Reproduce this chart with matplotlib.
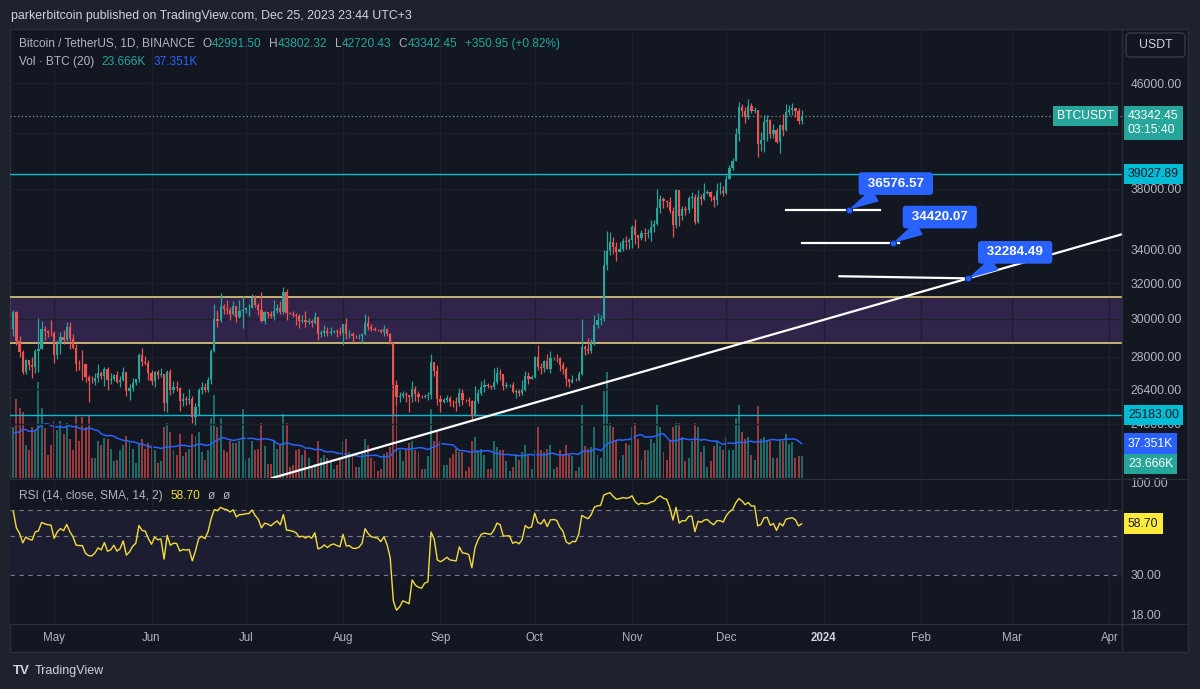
# BTCUSDT 1D chart, TradingView dark style
import numpy as np
import pandas as pd
import matplotlib
matplotlib.use("Agg")
import matplotlib.pyplot as plt
import matplotlib.dates as mdates
import matplotlib.transforms as mtransforms
from matplotlib.patches import Rectangle, FancyBboxPatch
from matplotlib.lines import Line2D
from matplotlib.offsetbox import TextArea, HPacker, AnnotationBbox
from matplotlib.ticker import NullLocator, NullFormatter

plt.rcParams['font.family'] = ['Liberation Sans', 'DejaVu Sans']

# ---------------- data: daily candles 2023-04-18 .. 2023-12-25 ----------------
close_apr = [30390, 28800, 28240, 27260, 27820, 27590, 27510, 28300, 28420, 29470, 29340, 29250, 29230]
high_apr = [30480, 30410, 29080, 28370, 27880, 27820, 28000, 28390, 30020, 29880, 29600, 29420, 29950]
low_apr = [29100, 28600, 28010, 27140, 27130, 27350, 26940, 27200, 27230, 28380, 28880, 29050, 29100]
vol_apr = [56, 86, 76, 72, 36, 30, 55, 52, 105, 76, 54, 25, 36]

close_may = [28070, 28680, 29030, 28850, 29530, 28900, 28430, 27660, 27630, 27620,
             26990, 26800, 26780, 26920, 27170, 27030, 27400, 26830, 26890, 27110,
             26750, 26850, 27220, 26330, 26470, 26720, 26870, 28080, 27740, 27700, 27210]
high_may = [29330, 28880, 29270, 29380, 29850, 29840, 29180, 28660, 27840, 28330,
            27640, 27070, 27030, 27200, 27660, 27280, 27500, 27490, 27190, 27160,
            27270, 27060, 27500, 27210, 26650, 26930, 26890, 28190, 28450, 28050, 27830]
low_may = [27680, 27870, 28120, 28680, 28820, 28380, 28390, 27280, 27360, 26850,
           26750, 25810, 26690, 26600, 26730, 26870, 26560, 26360, 26630, 26800,
           26680, 26500, 26800, 26080, 25870, 26330, 26610, 26770, 27550, 27580, 26840]
vol_may = [62, 52, 62, 48, 60, 42, 30, 68, 40, 66, 55, 68, 22, 22, 40, 36, 44, 42, 32, 18,
           20, 30, 36, 46, 40, 32, 16, 38, 42, 32, 38]

close_jun = [26820, 27250, 27070, 27120, 25760, 27240, 26350, 26500, 26480, 25850,
             25940, 25900, 25920, 25120, 25580, 26340, 26520, 26340, 26850, 28310,
             30000, 29890, 30690, 30530, 30470, 30270, 30690, 30080, 30450, 30470]
high_jun = [27350, 27300, 27320, 27460, 27130, 27350, 27400, 26810, 26780, 26530,
            26200, 26080, 26420, 26070, 25750, 26480, 26770, 26680, 27000, 28400,
            30800, 30500, 31430, 30800, 31050, 30650, 31000, 30720, 31050, 31280]
low_jun = [26600, 26500, 26900, 26970, 25390, 25350, 26120, 26230, 26320, 25380,
           25600, 25650, 25720, 24820, 24750, 25180, 26180, 26290, 26260, 26650,
           28270, 29530, 29810, 30250, 30270, 29930, 30230, 29850, 30050, 29500]
vol_jun = [36, 30, 16, 18, 55, 60, 50, 30, 25, 48, 24, 28, 32, 48, 46, 50, 28, 20, 30, 65,
           90, 55, 65, 30, 28, 40, 38, 38, 40, 75]

close_jul = [30590, 30620, 31160, 30770, 30510, 29900, 30350, 30290, 30170, 30410,
             30620, 30380, 31470, 30320, 30290, 30230, 30140, 29860, 29910, 29800,
             29900, 29790, 30080, 29180, 29230, 29350, 29210, 29310, 29350, 29280, 29230]
high_jul = [30660, 30800, 31380, 31330, 30880, 31500, 30450, 30380, 30440, 31030,
            30800, 30990, 31810, 31640, 30390, 30440, 30340, 30240, 30190, 30420,
            30050, 29990, 30350, 30100, 29380, 29680, 29580, 29530, 29410, 29450, 29530]
low_jul = [30320, 30160, 30580, 30640, 30200, 29850, 29700, 30040, 30060, 29950,
           30300, 30250, 30250, 29950, 30250, 30080, 29660, 29500, 29760, 29570,
           29720, 29530, 29740, 28860, 29050, 29100, 29090, 29130, 29260, 29030, 29110]
vol_jul = [20, 22, 40, 30, 32, 60, 35, 15, 15, 40, 32, 36, 70, 60, 12, 14, 30, 32, 25, 30,
           22, 12, 15, 40, 22, 25, 22, 20, 10, 14, 22]

close_aug = [29700, 29170, 29180, 29070, 29060, 29090, 29200, 29770, 29570, 29450,
             29420, 29400, 29280, 29430, 29170, 28700, 26620, 26050, 26100, 26190,
             26120, 26040, 26430, 26160, 26050, 26010, 26090, 26110, 27720, 27300, 25930]
high_aug = [29740, 30050, 29410, 29310, 29110, 29170, 29250, 30250, 30130, 29700,
            29540, 29470, 29450, 29670, 29480, 29250, 28780, 26830, 26280, 26300,
            26260, 26140, 26810, 26550, 26300, 26120, 26170, 26250, 28140, 27760, 27580]
low_aug = [28590, 28940, 28960, 28750, 28950, 28930, 28700, 29110, 29380, 29330,
           29350, 29360, 29250, 29080, 29060, 28680, 25170, 25620, 25800, 25970,
           25800, 25350, 25800, 25860, 25780, 25960, 25980, 25880, 25920, 27030, 25660]
vol_aug = [40, 42, 28, 26, 12, 12, 28, 42, 36, 22, 18, 8, 10, 26, 28, 34, 100, 80, 30, 18,
           32, 38, 40, 30, 28, 10, 10, 24, 75, 40, 50]

close_sep = [25800, 25870, 25970, 25810, 25780, 25750, 26240, 25910, 25890, 25830,
             25160, 25840, 26230, 26530, 26600, 26570, 26530, 26760, 27210, 27130,
             26570, 26580, 26580, 26250, 26300, 26220, 26370, 27020, 26910, 26970]
high_sep = [26130, 25980, 26120, 26100, 25890, 26040, 26450, 26420, 25950, 26030,
            25880, 26540, 26400, 26810, 26880, 26680, 26620, 27420, 27490, 27380,
            27160, 26740, 26630, 26730, 26430, 26390, 26840, 27310, 27230, 27080]
low_sep = [25330, 25730, 25790, 25600, 25560, 25360, 25610, 25650, 25800, 25600,
           24900, 25130, 25760, 26130, 26250, 26480, 26420, 26390, 26670, 26850,
           26360, 26470, 26500, 26220, 25990, 26090, 26120, 26330, 26670, 26900]
vol_sep = [40, 14, 14, 22, 26, 32, 28, 28, 8, 12, 40, 45, 30, 32, 25, 10, 10, 40, 34, 30,
           30, 18, 8, 12, 26, 20, 28, 36, 25, 10]

close_oct = [27990, 27500, 27430, 27780, 27410, 27930, 27960, 27920, 27590, 27390,
             26870, 26760, 26860, 26850, 27150, 28500, 28400, 28320, 28710, 29680,
             29920, 29990, 33070, 33900, 34500, 34150, 33890, 34080, 34530, 34480, 34640]
high_oct = [28060, 28590, 27670, 27830, 28130, 28290, 28000, 28120, 27990, 27740,
            27480, 26840, 27100, 26960, 27290, 30000, 28600, 28980, 28930, 30200,
            30340, 30220, 34000, 35200, 35130, 34830, 34500, 34480, 34770, 34850, 34720]
low_oct = [26950, 27330, 27160, 27220, 27370, 27180, 27850, 27730, 27270, 27160,
           26560, 26530, 26700, 26810, 26810, 27110, 28100, 28150, 28180, 28600,
           29480, 29680, 29880, 32800, 33690, 33760, 33330, 33870, 33920, 34080, 34080]
vol_oct = [30, 55, 30, 28, 32, 36, 10, 12, 30, 26, 36, 26, 24, 8, 12, 80, 35, 32, 34, 55,
           25, 22, 95, 115, 60, 55, 40, 20, 25, 38, 36]

close_nov = [35420, 34940, 34720, 35080, 35020, 35050, 35420, 35620, 36700, 37310,
             37130, 37060, 36490, 35550, 37880, 36160, 36600, 36570, 37360, 37450,
             35750, 37420, 37290, 37720, 37790, 37450, 37240, 37830, 37850, 37720]
high_nov = [35580, 35980, 34950, 35270, 35380, 35280, 35900, 35890, 37970, 37530,
            37400, 37230, 37420, 36760, 37980, 37930, 36850, 36850, 37500, 37750,
            37650, 37880, 37650, 38420, 37890, 37840, 37580, 38380, 38450, 38150]
low_nov = [34100, 34340, 34100, 34590, 34520, 34730, 34520, 35100, 35540, 36330,
           36710, 36760, 36340, 34800, 35360, 35500, 35880, 36200, 36380, 36700,
           35630, 35670, 36870, 37250, 37600, 37160, 36750, 36880, 37600, 37500]
vol_nov = [55, 60, 42, 20, 30, 30, 42, 38, 80, 55, 28, 20, 40, 55, 60, 60, 45, 18, 22, 40,
           60, 55, 28, 35, 12, 18, 35, 40, 35, 30]

close_dec = [38690, 39470, 39980, 41990, 44080, 43770, 43290, 44170, 43720, 43790,
             41240, 41480, 42890, 43020, 41940, 42280, 41370, 42660, 42270, 43660,
             43860, 43990, 43740, 42991.50, 43342.45]
high_dec = [38950, 39680, 40190, 42420, 44490, 44300, 44050, 44700, 44370, 44050,
            43800, 42100, 43430, 43420, 43100, 42700, 42430, 42760, 43500, 44290,
            44240, 44370, 44020, 43950, 43802.32]
low_dec = [37620, 38650, 39300, 39980, 41420, 43340, 42820, 43080, 43580, 43570,
           40220, 40680, 40600, 41420, 41660, 41670, 41250, 40500, 41800, 42180,
           43400, 43440, 43300, 42760, 42720.43]
vol_dec = [45, 30, 30, 65, 80, 50, 42, 45, 25, 20, 78, 42, 45, 40, 40, 22, 22, 42, 40, 48,
           37, 39.35, 22, 24, 23.666]

# history before the visible window (for RSI 14 and the 20 day volume average)
warm_close = [20190, 20630, 22140, 24200, 24750, 24380, 25050, 27420, 26970, 28040,
              27770, 28170, 27300, 28330, 27480, 27470, 27990, 27140, 27270, 28350,
              28030, 28480, 28450, 28200, 27800, 28170, 28170, 28040, 27920, 27950,
              28330, 29660, 30230, 29890, 30400, 30490, 30320, 30320, 29430]
warm_vol = [70, 55, 30, 30, 70, 50, 45, 35, 30, 18, 25, 75, 85, 60, 55, 70, 28, 30, 55]

close = close_apr + close_may + close_jun + close_jul + close_aug + close_sep + close_oct + close_nov + close_dec
high = high_apr + high_may + high_jun + high_jul + high_aug + high_sep + high_oct + high_nov + high_dec
low = low_apr + low_may + low_jun + low_jul + low_aug + low_sep + low_oct + low_nov + low_dec
volume = vol_apr + vol_may + vol_jun + vol_jul + vol_aug + vol_sep + vol_oct + vol_nov + vol_dec  # thousand BTC
dates = pd.date_range('2023-04-18', periods=len(close), freq='D')

# drawings on the chart
cyan_levels = [39027.89, 25183.00]
zone = [28690, 31185]
trend_dates = ['2023-07-10', '2024-02-16']
trend_prices = [22490, 32284.49]
level_start = ['2023-12-20', '2023-12-25', '2024-01-06']
level_end = ['2024-01-19', '2024-01-25', '2024-02-16']
level_start_price = [36576.57, 34420.07, 32410]
level_price = [36576.57, 34420.07, 32284.49]
callout_dates = ['2024-01-09', '2024-01-23', '2024-02-16']

price_ticks = [24800, 26400, 28000, 30000, 32000, 34000, 38000, 42000, 46000]
rsi_ticks = [18, 30, 100]
rsi_levels = [70, 50, 30]
month_names = ['May', 'Jun', 'Jul', 'Aug', 'Sep', 'Oct', 'Nov', 'Dec', '2024', 'Feb', 'Mar', 'Apr']
months = pd.date_range('2023-05-01', periods=len(month_names), freq='MS')

# ---------------- indicators ----------------
c = np.array(close, dtype=float)
o = np.array([warm_close[-1]] + close[:-1], dtype=float)
h = np.array(high, dtype=float)
l = np.array(low, dtype=float)
v = np.array(volume, dtype=float)

c_all = np.array(warm_close + close, dtype=float)
d = np.diff(c_all)
gain = np.where(d > 0, d, 0.0)
loss = np.where(d < 0, -d, 0.0)
ag, al = gain[:14].mean(), loss[:14].mean()
rsi_all = [100 - 100 / (1 + ag / al)]
for g, ls in zip(gain[14:], loss[14:]):
    ag = (ag * 13 + g) / 14
    al = (al * 13 + ls) / 14
    rsi_all.append(100 - 100 / (1 + ag / al))
rsi = np.array(rsi_all)[-len(close):]
vol_ma = pd.Series(warm_vol + volume, dtype=float).rolling(20).mean().to_numpy()[-len(volume):]

# ---------------- style ----------------
BG = '#131722'
OUTER = '#1e222d'
BORDER = '#2a2e39'
GRID = '#1c202b'
TXT = '#b2b5be'
UP = '#26a69a'
DOWN = '#ef5350'
BLUE = '#2962ff'
CYAN = '#00bcd4'
YEL = '#f2dd3a'
W, H = 1200, 689


def rect(x0, y0, x1, y1):
    return [x0 / W, 1 - y1 / H, (x1 - x0) / W, (y1 - y0) / H]


fig = plt.figure(figsize=(12, 6.89), dpi=100)
fig.patch.set_facecolor(OUTER)
fig.add_artist(Rectangle((10 / W, 1 - 652 / H), 1178 / W, 623 / H, transform=fig.transFigure,
                         fc=BG, ec=BORDER, lw=1, zorder=-1))

ax = fig.add_axes(rect(10, 29, 1122, 478))
ax_v = ax.twinx()
ax_r = fig.add_axes(rect(10, 479, 1122, 624), sharex=ax)
ax.set_zorder(2)
ax_v.set_zorder(1)
ax_r.set_zorder(1)
ax.patch.set_visible(False)
ax_v.set_facecolor(BG)
ax_r.set_facecolor(BG)
for a in (ax, ax_v, ax_r):
    for s in a.spines.values():
        s.set_visible(False)

xn = mdates.date2num(dates)
x_jun = mdates.date2num(pd.Timestamp('2023-06-01'))
ax.set_xlim(x_jun - 45.05, x_jun + 308.98)
mx = mdates.date2num(months)
ax.set_xticks(mx)
ax.tick_params(axis='x', length=0, labelbottom=False)
ax_r.tick_params(axis='x', length=0, labelbottom=False)

# price scale (log)
ax.set_yscale('log')
ax.set_ylim(22470, 50770)
ax.yaxis.tick_right()
ax.set_yticks(price_ticks)
ax.set_yticklabels(['' if t == 42000 else f'{t:.2f}' for t in price_ticks])
ax.yaxis.set_minor_locator(NullLocator())
ax.yaxis.set_minor_formatter(NullFormatter())
ax.tick_params(axis='y', which='both', length=0, pad=6, labelsize=8.7, labelcolor=TXT)
ax.grid(True, color=GRID, lw=1)
ax_v.tick_params(axis='y', right=False, labelright=False, left=False, labelleft=False)

# zone, levels
ax.axhspan(zone[0], zone[1], color='#6a3d9a', alpha=0.35, lw=0, zorder=1)
for z in zone:
    ax.axhline(z, color='#d2bd74', lw=1.3, zorder=1.6)
for lv in cyan_levels:
    ax.axhline(lv, color=CYAN, lw=1, zorder=1.6)
ax.axhline(c[-1], color='#7f9795', lw=0.9, ls=(0, (1, 2)), zorder=1.6)

# candles
col = np.where(c >= o, UP, DOWN)
ax.vlines(xn, l, h, colors=col, lw=0.9, zorder=3)
lo_b = np.minimum(o, c)
hi_b = np.maximum(o, c)
ax.bar(xn, hi_b - lo_b, bottom=lo_b, width=0.7, color=col, lw=0, zorder=3.1)

# volume
ax_v.set_ylim(0, 489)
ax_v.bar(xn, v, width=0.62, color=col, alpha=0.6, lw=0)
ax_v.plot(xn, vol_ma, color=BLUE, lw=1.1)

# trend line and price levels with callouts
td = mdates.date2num(pd.to_datetime(trend_dates))
ax.axline((td[0], trend_prices[0]), (td[1], trend_prices[1]), color='white', lw=1.6, zorder=6)
for s, e, ps, p, cd in zip(level_start, level_end, level_start_price, level_price, callout_dates):
    xs, xe, xc = mdates.date2num(pd.to_datetime([s, e, cd]))
    ax.plot([xs, xe], [ps, p], color='white', lw=1.6, zorder=6)
    ax.annotate(f' {p:.2f} ', xy=(xc, p), xytext=(47, 26), textcoords='offset pixels',
                ha='center', va='center', color='white', fontsize=9.6, fontweight='bold',
                bbox=dict(boxstyle='round,pad=0.4,rounding_size=0.25', fc=BLUE, ec='none'),
                arrowprops=dict(arrowstyle='wedge,tail_width=1.1,shrink_factor=0.5',
                                fc=BLUE, ec='none', shrinkA=0, shrinkB=0),
                zorder=8)
    ax.plot(xc, p, 'o', ms=4.5, mfc=BLUE, mec='#0d2a80', mew=0.8, zorder=9)

# RSI pane
ax_r.set_yscale('log')
ax_r.set_ylim(15.8, 105.3)
ax_r.yaxis.tick_right()
ax_r.set_yticks(rsi_ticks)
ax_r.set_yticklabels([f'{t:.2f}' for t in rsi_ticks])
ax_r.yaxis.set_minor_locator(NullLocator())
ax_r.yaxis.set_minor_formatter(NullFormatter())
ax_r.tick_params(axis='y', which='both', length=0, pad=6, labelsize=8.7, labelcolor=TXT)
ax_r.grid(True, axis='x', color=GRID, lw=1)
ax_r.axhspan(rsi_levels[2], rsi_levels[0], color='#7e57c2', alpha=0.1, lw=0)
for lv in rsi_levels:
    ax_r.axhline(lv, color='#787b86', lw=0.8, ls=(0, (4, 4)))
ax_r.plot(xn, rsi, color=YEL, lw=1)

# month labels on the time scale
tr_time = mtransforms.blended_transform_factory(ax_r.transData, ax_r.transAxes)
for m, name in zip(mx, month_names):
    bold = name == '2024'
    ax_r.annotate(name, xy=(m, 0), xycoords=tr_time, xytext=(0, -14), textcoords='offset pixels',
                  ha='center', va='center', fontsize=8.3, color='#d1d4dc' if bold else TXT,
                  fontweight='bold' if bold else 'normal', annotation_clip=False)


# labels on the price scales
def scale_tag(a, y, txt, fc, tc, dx=6, dy=0, ha='left'):
    tr = mtransforms.blended_transform_factory(a.transAxes, a.transData)
    a.annotate(txt, xy=(1, y), xycoords=tr, xytext=(dx, dy), textcoords='offset pixels',
               ha=ha, va='center', fontsize=8.7, color=tc, linespacing=1.2,
               bbox=dict(boxstyle='square,pad=0.35', fc=fc, ec='none'),
               annotation_clip=False, zorder=10)


scale_tag(ax, c[-1], '43342.45\n03:15:40', UP, 'white', dy=-7)
scale_tag(ax, c[-1], 'BTCUSDT', UP, 'white', dx=-8, ha='right')
for lv in cyan_levels:
    scale_tag(ax, lv, f'{lv:.2f}', CYAN, BG)
scale_tag(ax_v, vol_ma[-1], f'{vol_ma[-1]:.3f}K', BLUE, 'white')
scale_tag(ax_v, v[-1], f'{v[-1]:.3f}K', UP, 'white', dy=-8)
scale_tag(ax_r, 58.70, '58.70', '#ffeb3b', BG)

# frame lines
for xs, ys in (([1122, 1122], [29, 652]), ([10, 1188], [478.5, 478.5]), ([10, 1188], [624, 624])):
    fig.add_artist(Line2D([x / W for x in xs], [1 - y / H for y in ys], transform=fig.transFigure,
                          color=BORDER, lw=1, zorder=5))

fig.add_artist(FancyBboxPatch((1126, H - 57), 59, 24, boxstyle='round,pad=0,rounding_size=4',
                              transform=mtransforms.IdentityTransform(), fc=BG, ec='#363a45', lw=1, zorder=5))
fig.text(1155.5 / W, 1 - 45 / H, 'USDT', ha='center', va='center', color='#d1d4dc', fontsize=8.8, zorder=6)

# header, legends, footer
fig.text(11 / W, 1 - 16 / H, 'parkerbitcoin published on TradingView.com, Dec 25, 2023 23:44 UTC+3',
         color='#d1d4dc', fontsize=8.9, ha='left', va='center')


def legend_row(groups, x_px, y_px, sep):
    outer = []
    for grp in groups:
        kids = [TextArea(t, textprops=dict(color=cl, fontsize=8.6)) for t, cl in grp]
        outer.append(HPacker(children=kids, align='baseline', pad=0, sep=0))
    pack = HPacker(children=outer, align='baseline', pad=0, sep=sep)
    ab = AnnotationBbox(pack, (x_px / W, 1 - y_px / H), xycoords='figure fraction',
                        box_alignment=(0, 0.5), frameon=False, pad=0, zorder=7)
    fig.add_artist(ab)


legend_row([[('Bitcoin / TetherUS, 1D, BINANCE', TXT)],
            [('O', TXT), (f'{o[-1]:.2f}', UP)], [('H', TXT), (f'{h[-1]:.2f}', UP)],
            [('L', TXT), (f'{l[-1]:.2f}', UP)], [('C', TXT), (f'{c[-1]:.2f}', UP)],
            [(f'+{c[-1] - o[-1]:.2f} (+{(c[-1] - o[-1]) / o[-1] * 100:.2f}%)', UP)]], 19, 44, 5.5)
legend_row([[('Vol · BTC (20)', TXT)], [(f'{v[-1]:.3f}K', UP)], [(f'{vol_ma[-1]:.3f}K', BLUE)]], 19, 62, 5.5)
legend_row([[('RSI (14, close, SMA, 14, 2)', TXT)], [('58.70', YEL)], [('ø', TXT)], [('ø', TXT)]], 19, 496, 5.5)

fig.text(13 / W, 1 - 671 / H, 'TV', color='#d1d4dc', fontsize=9.5, fontweight='heavy', ha='left', va='center')
fig.text(35 / W, 1 - 671 / H, 'TradingView', color='#d1d4dc', fontsize=9, ha='left', va='center')

fig.savefig('out.png', dpi=100, facecolor=fig.get_facecolor())
